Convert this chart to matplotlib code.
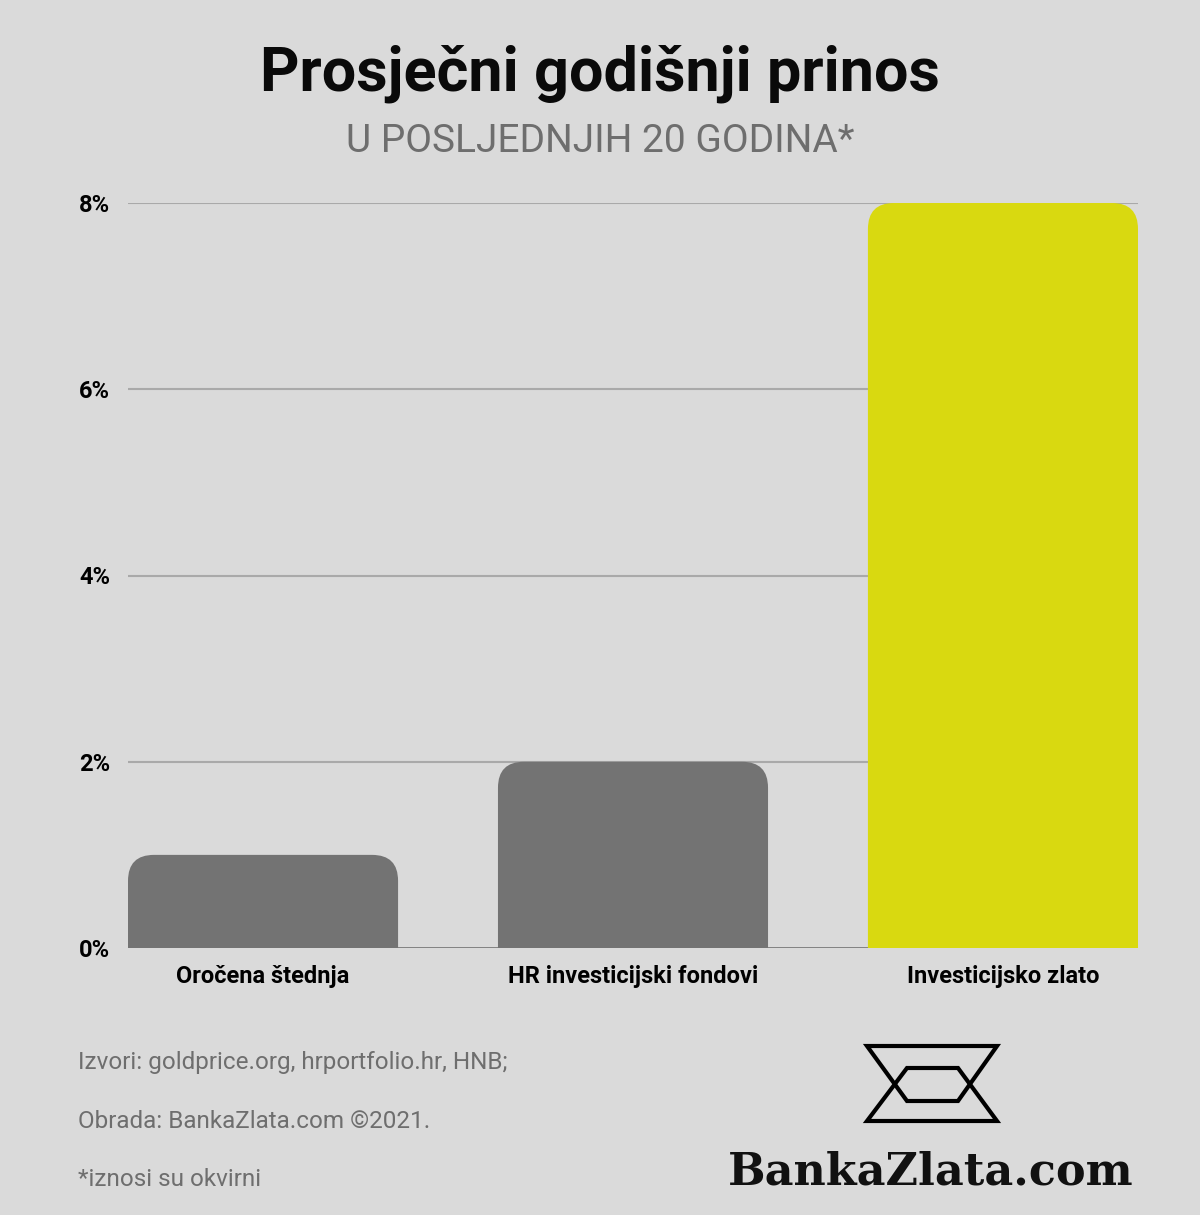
import matplotlib
matplotlib.use('Agg')
import matplotlib.pyplot as plt
from matplotlib.patches import FancyBboxPatch, Polygon

# Data
categories = ['Oročena štednja', 'HR investicijski fondovi', 'Investicijsko zlato']
values = [1.0, 2.0, 8.0]
bar_colors = ['#737373', '#737373', '#d9d910']
yticks = [0, 2, 4, 6, 8]
ytick_labels = ['0%', '2%', '4%', '6%', '8%']
footer_lines = ['Izvori: goldprice.org, hrportfolio.hr, HNB;',
                'Obrada: BankaZlata.com ©2021.',
                '*iznosi su okvirni']

bg = '#dadada'
W, H = 1200, 1215

fig = plt.figure(figsize=(12, 12.15), dpi=100, facecolor=bg)
ax = fig.add_axes([128 / W, 1 - 948 / H, (1138 - 128) / W, (948 - 203) / H])
ax.set_facecolor(bg)

bar_w = 0.73
ax.set_xlim(-bar_w / 2, len(categories) - 1 + bar_w / 2)
ax.set_ylim(0, 8)

# rounded top corners: radius in pixels, converted to data units
radius_px = 26
px_x = (1138 - 128) / (ax.get_xlim()[1] - ax.get_xlim()[0])
px_y = (948 - 203) / 8
rx = radius_px / px_x
ry = radius_px / px_y

for y in yticks[1:]:
    ax.axhline(y, color='#a9a9a9', lw=1.5, zorder=1)
ax.axhline(0, color='#7a7a7a', lw=2, zorder=1)

# bottom corners go below zero and are clipped by the axes
for i, (v, c) in enumerate(zip(values, bar_colors)):
    x0 = i - bar_w / 2
    patch = FancyBboxPatch((x0 + rx, -ry), bar_w - 2 * rx, v,
                           boxstyle='round,pad=%f,rounding_size=%f' % (rx, rx),
                           mutation_aspect=ry / rx, fc=c, ec='none', zorder=2)
    ax.add_patch(patch)

for s in ax.spines.values():
    s.set_visible(False)
ax.set_xticks(range(len(categories)))
ax.set_xticklabels(categories, fontsize=17, fontweight='bold', family='Roboto')
ax.set_yticks(yticks)
ax.set_yticklabels(ytick_labels, fontsize=17, fontweight='bold', family='Roboto')
ax.tick_params(length=0, pad=13)
ax.tick_params(axis='x', pad=12)

fig.text(0.5, 1 - 74 / H, 'Prosječni godišnji prinos', ha='center', va='center',
         fontsize=44, fontweight='bold', family='Roboto', color='#0a0a0a')
fig.text(0.5, 1 - 142 / H, 'U POSLJEDNJIH 20 GODINA*', ha='center', va='center',
         fontsize=28, family='Roboto', color='#6e6e6e')

for k, line in enumerate(footer_lines):
    fig.text(78 / W, 1 - (1063 + 58 * k) / H, line, ha='left', va='center',
             fontsize=17.5, family='Roboto', color='#6e6e6e')

# logo: two overlapping trapezoids
top = [(867, 1046), (997, 1046), (958, 1101), (907, 1101)]
bot = [(867, 1121), (997, 1121), (958, 1068), (907, 1068)]
for pts in (top, bot):
    poly = Polygon([(x / W, 1 - y / H) for x, y in pts], closed=True, fill=False,
                   ec='#000000', lw=3, joinstyle='miter', transform=fig.transFigure)
    fig.add_artist(poly)

fig.text(931 / W, 1 - 1172 / H, 'BankaZlata.com', ha='center', va='center',
         fontsize=32, fontweight='bold', family='DejaVu Serif', color='#111111')

plt.savefig('out.png', dpi=100, facecolor=bg)
